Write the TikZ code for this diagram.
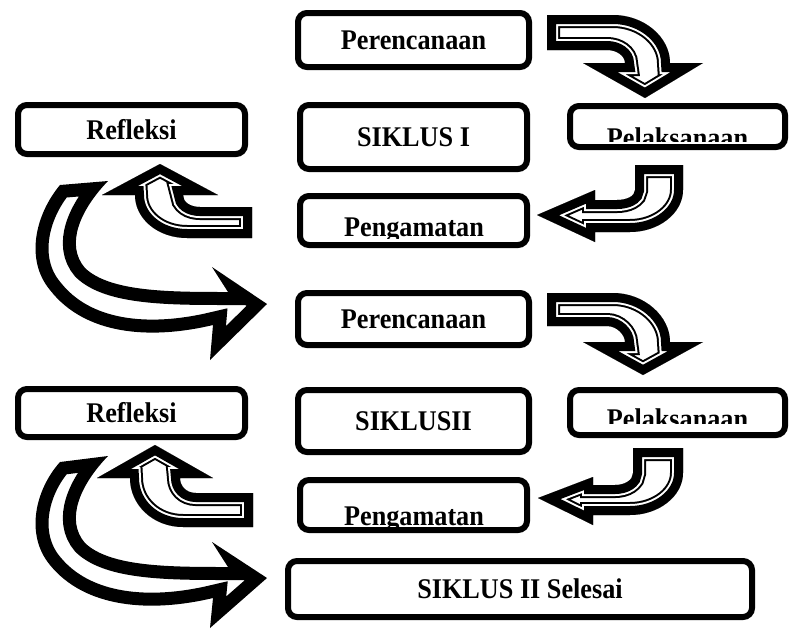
\documentclass[tikz,border=0pt]{standalone}
\usepackage{fontspec}
\newfontfamily\boxfont{Liberation Serif}[FakeStretch=0.92]
\usepackage{tikz}
% block arrow: thick rim, thin inner line
\newcommand\hollowarrow[1]{\begin{scope}\clip #1; \fill[white] #1; \draw[line width=26pt] #1; \draw[white, line width=22pt] #1; \draw[line width=18pt] #1; \end{scope}}
% block arrow: thick rim only
\newcommand\rimarrow[1]{\begin{scope}\clip #1; \fill[white] #1; \draw[line width=26pt] #1; \end{scope}}
\tikzset{
	box/.style={draw, line width=6pt, rounded corners=9pt, fill=white, inner sep=0pt, font=\boxfont\bfseries\fontsize{28.5}{30}\selectfont},
	boxtext/.style={inner sep=0pt, font=\boxfont\bfseries\fontsize{28.5}{30}\selectfont}
}

\begin{document}
\begin{tikzpicture}[x=1pt, y=-1pt]
			%%%%% START %%%%%
			\useasboundingbox (0,0) rectangle (789,632);
			
			% siklus I
			\node[box, minimum width=231pt, minimum height=54pt] (plan1) at (413.5,40) {Perencanaan};
			\node[box, minimum width=227pt, minimum height=64pt] (cycle1) at (413.5,137) {SIKLUS I};
			\node[box, minimum width=227pt, minimum height=49pt] (refl1) at (131.5,129.5) {Refleksi};
			
			\node[box, minimum width=215pt, minimum height=41pt] (act1) at (677.5,126.5) {};
			\begin{scope}
				\clip (570,106) rectangle (785,141);
				\node[boxtext, anchor=base] (act1txt) at (677.5,147) {Pelaksanaan};
			\end{scope}
			
			\node[box, minimum width=227pt, minimum height=49pt] (obs1) at (413.5,220.5) {};
			\begin{scope}
				\clip (300,196) rectangle (527,238);
				\node[boxtext, anchor=base] (obs1txt) at (414,236) {Pengamatan};
			\end{scope}
			
			\hollowarrow{(547,15) -- (613,15) .. controls (644,15) and (670,37) .. (670,63) -- (703,63) -- (645,98) -- (583,63) -- (625,63) .. controls (625,56) and (617,50) .. (607,50) -- (547,50) -- cycle}
			\hollowarrow{(635,165) -- (683,165) -- (683,190) .. controls (683,213) and (659,232) .. (630,232) -- (595,232) -- (595,242) -- (537,215) -- (595,190) -- (595,200) -- (617,200) .. controls (627,200) and (635,196) .. (635,190) -- cycle}
			\hollowarrow{(252,207) -- (200,207) .. controls (190,207) and (183,202) .. (183,195) -- (218,195) -- (160,164) -- (102,195) -- (135,195) .. controls (135,219) and (158,238) .. (187,238) -- (252,238) -- cycle}
			\rimarrow{(60,185) -- (108,181) .. controls (80,210) and (65,245) .. (85,268) .. controls (110,292) and (170,292) .. (228,292) -- (212,267) -- (267,304) -- (210,360) -- (213,325) .. controls (150,340) and (85,335) .. (50,290) .. controls (25,260) and (35,215) .. (60,185) -- cycle}
			
			% siklus II
			\node[box, minimum width=231pt, minimum height=52pt] (plan2) at (413.5,319) {Perencanaan};
			\node[box, minimum width=231pt, minimum height=62pt] (cycle2) at (413.5,421) {SIKLUSII};
			\node[box, minimum width=227pt, minimum height=48pt] (refl2) at (131.5,413) {Refleksi};
			
			\node[box, minimum width=215pt, minimum height=45pt] (act2) at (677.5,412.5) {};
			\begin{scope}
				\clip (570,390) rectangle (785,423);
				\node[boxtext, anchor=base] (act2txt) at (677.5,428) {Pelaksanaan};
			\end{scope}
			
			\node[box, minimum width=227pt, minimum height=50pt] (obs2) at (413.5,505) {};
			\begin{scope}
				\clip (300,480) rectangle (527,527);
				\node[boxtext, anchor=base] (obs2txt) at (414,525) {Pengamatan};
			\end{scope}
			
			\hollowarrow{(547,293) -- (613,293) .. controls (644,293) and (670,316) .. (670,342) -- (703,342) -- (643,375) -- (583,342) -- (625,342) .. controls (625,335) and (617,326) .. (607,326) -- (547,326) -- cycle}
			\hollowarrow{(633,448) -- (683,448) -- (683,473) .. controls (683,496) and (659,515) .. (630,515) -- (593,515) -- (593,525) -- (538,498) -- (593,477) -- (593,485) -- (615,485) .. controls (625,485) and (633,480) .. (633,473) -- cycle}
			\hollowarrow{(253,493) -- (196,493) .. controls (186,493) and (180,486) .. (180,478) -- (213,478) -- (155,445) -- (97,478) -- (130,478) .. controls (130,505) and (153,527) .. (183,527) -- (253,527) -- cycle}
			\rimarrow{(60,462) -- (108,456) .. controls (80,485) and (65,520) .. (85,543) .. controls (110,567) and (170,567) .. (228,567) -- (212,542) -- (267,578) -- (210,628) -- (213,598) .. controls (150,613) and (85,608) .. (50,565) .. controls (25,535) and (35,490) .. (60,462) -- cycle}
			
			\node[box, minimum width=464pt, minimum height=56pt] (done) at (520,589) {SIKLUS II Selesai};
			
			%%%%% END %%%%%
\end{tikzpicture}
\end{document}
